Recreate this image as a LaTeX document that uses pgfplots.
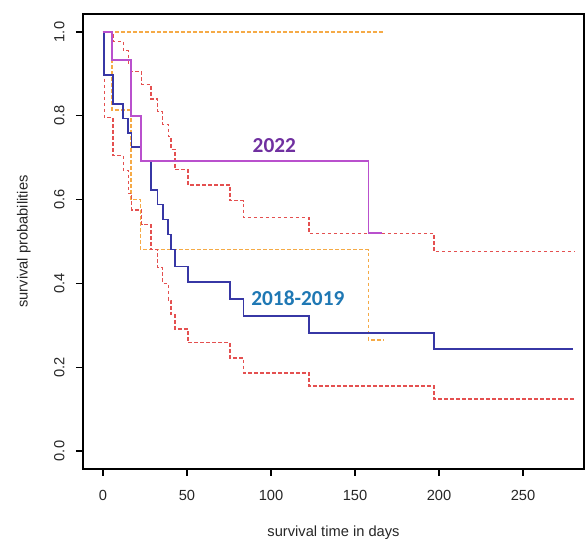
\documentclass[border=0pt]{standalone}
\usepackage{fontspec}
\setmainfont{Liberation Sans}
\newfontfamily\carlito{Carlito}
\usepackage{pgfplots}
\pgfplotsset{compat=1.18}
\definecolor{kmblue}{RGB}{55,55,165}
\definecolor{kmpurple}{RGB}{185,80,205}
\definecolor{cired}{RGB}{228,80,80}
\definecolor{ciorange}{RGB}{245,170,70}
\definecolor{lab22}{RGB}{112,48,160}
\definecolor{lab18}{RGB}{31,120,180}
\begin{document}
\begin{tikzpicture}
\begin{axis}[
  at={(0,0)}, anchor=south west,
  scale only axis, width=375.75pt, height=341.25pt,
  xmin=-11.9, xmax=286.3, ymin=-0.043, ymax=1.043,
  axis line style={line width=1pt, black},
  xtick={0,50,100,150,200,250},
  ytick={0,0.2,0.4,0.6,0.8,1.0},
  yticklabels={0.0,0.2,0.4,0.6,0.8,1.0},
  xtick pos=left, ytick pos=left,
  tick align=outside, major tick length=5.25pt,
  tick style={line width=0.8pt, black},
  /pgf/number format/assume math mode=true,
  ticklabel style={font=\fontsize{11}{13}\selectfont, text=black!85},
  xticklabel style={yshift=-7.5pt},
  yticklabel style={xshift=-5pt, rotate=90, anchor=south},
  xlabel={survival time in days},
  ylabel={survival probabilities},
  label style={font=\fontsize{11}{13}\selectfont, text=black!85},
  xlabel style={at={(axis description cs:0.5,-0.139)}, anchor=center},
  ylabel style={at={(axis description cs:-0.118,0.5)}, anchor=center},
  clip=false,
]
% CI for 2022 (orange dashed)
\addplot[const plot, color=ciorange, line width=0.9pt, dash pattern=on 2.7pt off 1.8pt] coordinates {
(0,1.0) (167,1.0)};
\addplot[const plot, color=ciorange, line width=0.9pt, dash pattern=on 2.7pt off 1.8pt] coordinates {
(0,1.0) (5.4,0.814) (16.7,0.60) (22.5,0.48) (158,0.265) (167,0.265)};
% CI for 2018-2019 (red dashed)
\addplot[const plot, color=cired, line width=0.9pt, dash pattern=on 2.7pt off 1.8pt] coordinates {
(0,1.0) (6,0.978) (12,0.955) (15,0.925) (17,0.905) (23,0.875) (28.6,0.84)
(32.6,0.81) (35.6,0.78) (38.8,0.75) (40.5,0.72) (42.9,0.671) (50.6,0.635)
(75.6,0.597) (83.5,0.558) (122.6,0.52) (197,0.477) (281,0.477)};
\addplot[const plot, color=cired, line width=0.9pt, dash pattern=on 2.7pt off 1.8pt] coordinates {
(0,1.0) (0.7,0.795) (6,0.705) (12,0.67) (15,0.615) (17,0.575) (23,0.54)
(28.6,0.48) (32.6,0.437) (35.6,0.40) (38.8,0.36) (40.5,0.325) (42.9,0.291)
(50.6,0.258) (75.6,0.222) (83.5,0.186) (122.6,0.155) (197,0.124) (281,0.124)};
% KM 2018-2019
\addplot[const plot, color=kmblue, line width=1.1pt] coordinates {
(0,1.0) (0.7,0.897) (6,0.828) (12,0.793) (15,0.759) (17,0.726) (23,0.692)
(28.6,0.623) (32.6,0.588) (35.6,0.553) (38.8,0.517) (40.5,0.481) (42.9,0.440)
(50.6,0.403) (75.6,0.363) (83.5,0.322) (122.6,0.282) (197,0.243) (280,0.243)};
% KM 2022
\addplot[const plot, color=kmpurple, line width=1.1pt] coordinates {
(0,1.0) (5.4,0.933) (16.7,0.80) (22.5,0.692) (158,0.52) (166,0.52)};
\node[font=\carlito\bfseries\fontsize{16}{18}\selectfont, text=lab22] at (axis cs:102,0.73) {2022};
\node[font=\carlito\bfseries\fontsize{16}{18}\selectfont, text=lab18] at (axis cs:116,0.365) {2018-2019};
\end{axis}
\pgfresetboundingbox
\path (-62.25pt,-54pt) rectangle (376.5pt,351.75pt);
\end{tikzpicture}
\end{document}
